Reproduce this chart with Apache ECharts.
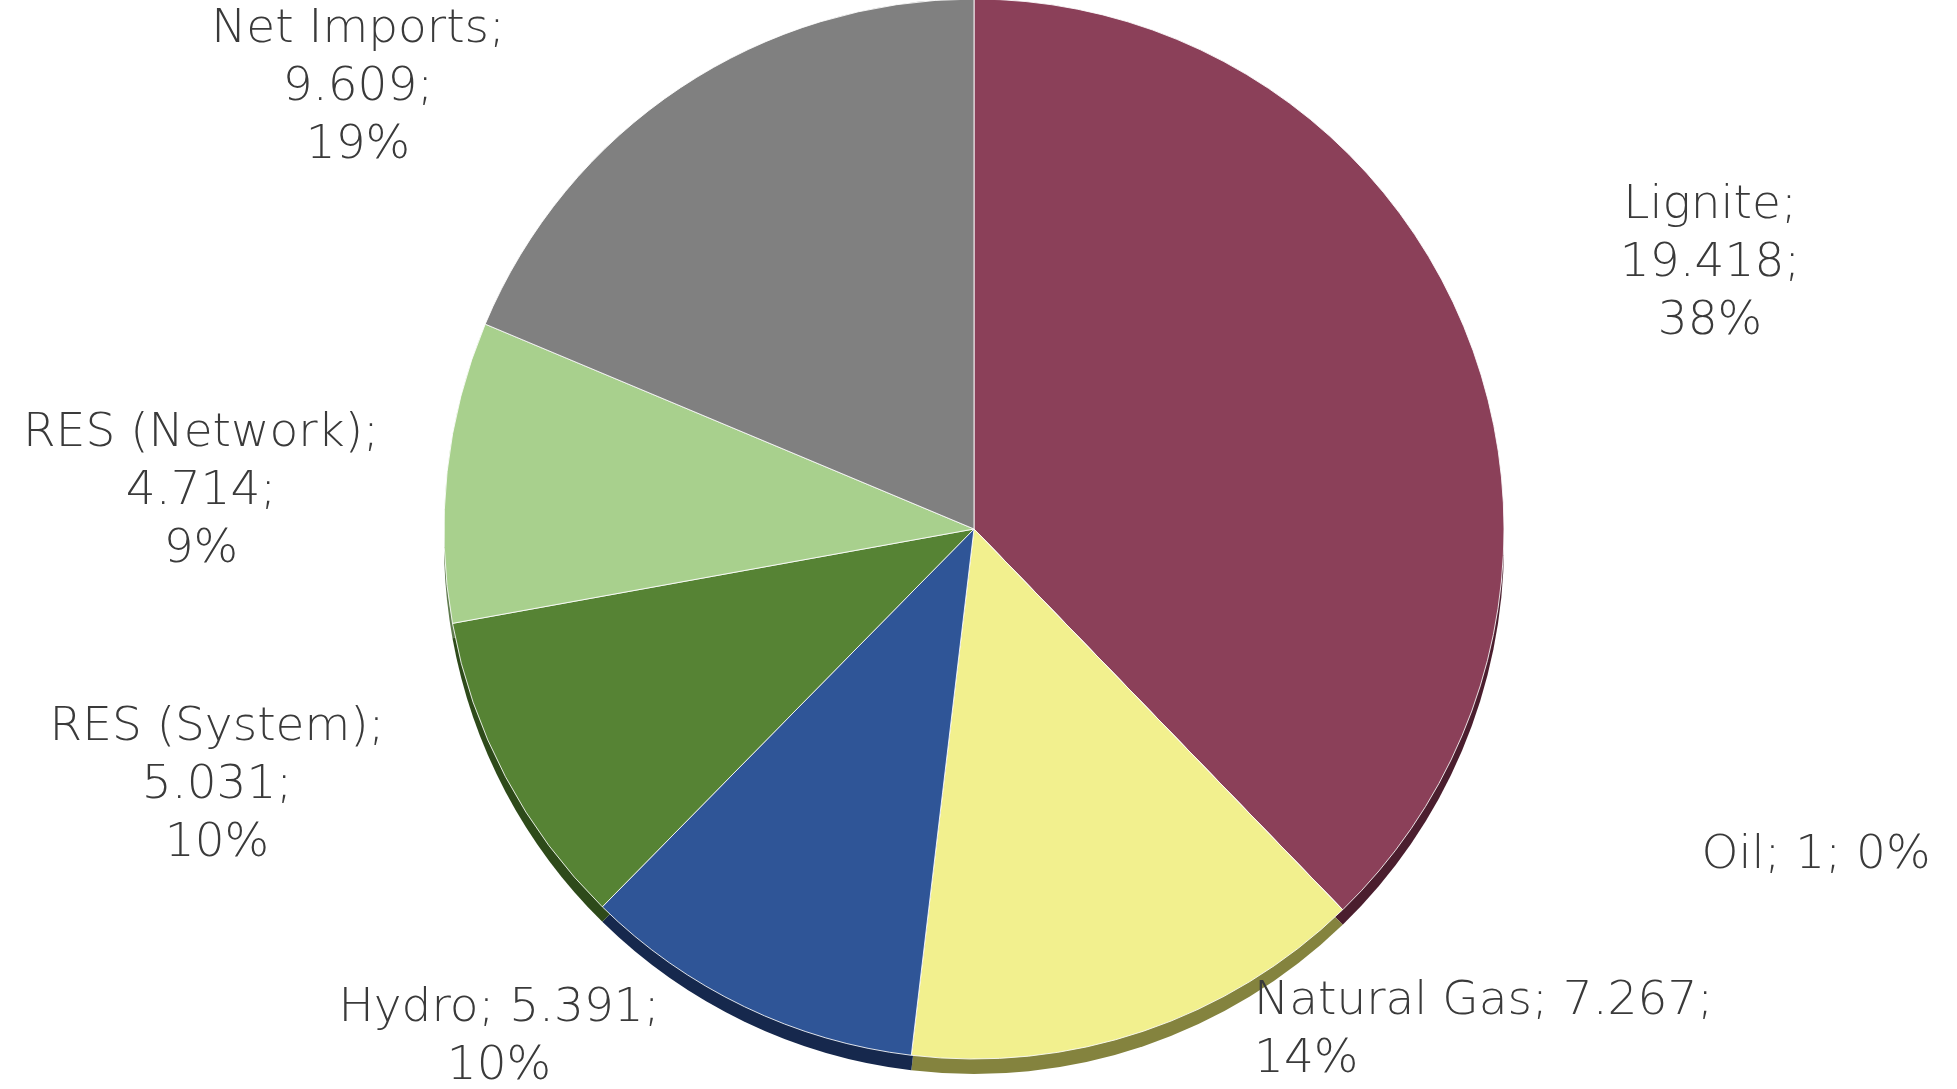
<!DOCTYPE html>
<html>
<head>
<meta charset="utf-8">
<title>Electricity supply mix</title>
<script src="https://cdn.jsdelivr.net/npm/echarts@6/dist/echarts.min.js"></script>
<style>
  html, body { margin: 0; padding: 0; background: #ffffff; }
  #chart { width: 1957px; height: 1089px; }
</style>
</head>
<body>
<div id="chart"></div>
<script>
// Supply sources, clockwise from 12 o'clock
const categories = ['Lignite', 'Oil', 'Natural Gas', 'Hydro', 'RES (System)', 'RES (Network)', 'Net Imports'];
// Energy per source (GWh)
const values = [19418, 1, 7267, 5391, 5031, 4714, 9609];

// Slice colours (top face) and darker colours for the pie's side wall
const topColors  = ['#8B4059', '#E46C0A', '#F2F08E', '#2F5597', '#568334', '#A8D08D', '#808080'];
const sideColors = ['#4B1E2E', '#7A3A06', '#84833E', '#16284D', '#2E4A1A', '#5F7A4E', '#4A4A4A'];

// How each label wraps: separator after the name and after the value
const nameBreak  = ['\n', ' ', ' ', ' ', '\n', '\n', '\n'];
const valueBreak = ['\n', ' ', '\n', '\n', '\n', '\n', '\n'];

// Label anchor points [x, y, align]
const labelPos = [
  [1710, 264, 'center'],
  [1816, 856, 'center'],
  [1254, 1031, 'left'],
  [499, 1038, 'center'],
  [217, 786, 'center'],
  [201, 492, 'center'],
  [358, 88, 'center']
];

const total = values.reduce((a, b) => a + b, 0);

function fmtThousands(v) {
  return String(v).replace(/\B(?=(\d{3})+(?!\d))/g, '.');
}

function makeData(colors) {
  return categories.map((name, i) => ({
    name: name,
    value: values[i],
    itemStyle: { color: colors[i] }
  }));
}

const chart = echarts.init(document.getElementById('chart'), null, { renderer: 'canvas' });

const cx = 974, cy = 529, r = 530, depth = 15;

chart.setOption({
  backgroundColor: '#ffffff',
  animation: false,
  series: [
    {
      // side wall of the tilted pie
      type: 'pie',
      z: 1,
      center: [cx, cy + depth],
      radius: [0, r],
      startAngle: 90,
      clockwise: true,
      silent: true,
      label: { show: false },
      labelLine: { show: false },
      itemStyle: { borderWidth: 0 },
      data: makeData(sideColors)
    },
    {
      type: 'pie',
      z: 2,
      center: [cx, cy],
      radius: [0, r],
      startAngle: 90,
      clockwise: true,
      avoidLabelOverlap: false,
      itemStyle: { borderColor: 'rgba(255,255,255,0.85)', borderWidth: 1 },
      labelLine: { show: false },
      label: {
        show: true,
        position: 'outside',
        color: '#3a3a3a',
        fontFamily: 'DejaVu Sans',
        fontWeight: 200,
        fontSize: 47,
        lineHeight: 58,
        formatter: function (p) {
          const i = p.dataIndex;
          const pct = Math.round(values[i] / total * 100);
          return p.name + ';' + nameBreak[i] + fmtThousands(values[i]) + ';' + valueBreak[i] + pct + '%';
        }
      },
      labelLayout: function (params) {
        const pos = labelPos[params.dataIndex];
        return { x: pos[0], y: pos[1], align: pos[2], verticalAlign: 'middle' };
      },
      data: makeData(topColors)
    }
  ]
});
</script>
</body>
</html>
